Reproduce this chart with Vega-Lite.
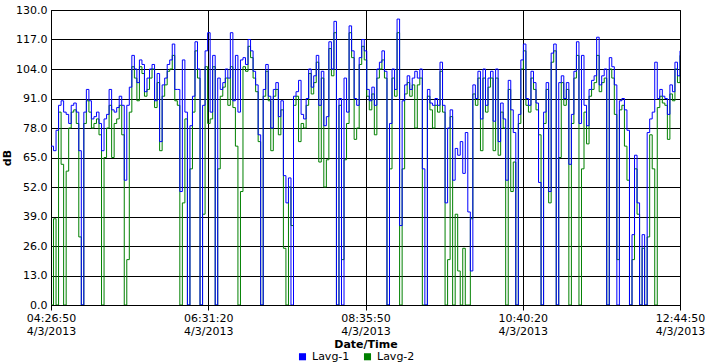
{
  "$schema": "https://vega.github.io/schema/vega-lite/v6.json",
  "width": 629,
  "height": 295,
  "autosize": {"type": "none"},
  "padding": {"left": 51, "top": 10, "right": 25, "bottom": 58},
  "background": "white",
  "config": {
    "font": "DejaVu Sans",
    "view": {"stroke": "#000", "strokeWidth": 1},
    "axis": {
      "labelFont": "DejaVu Sans", "labelFontSize": 11, "labelColor": "#000",
      "titleFont": "DejaVu Sans", "titleFontSize": 11, "titleFontWeight": "bold", "titleColor": "#000",
      "gridColor": "#000", "gridOpacity": 1, "gridWidth": 1,
      "domainColor": "#000", "tickColor": "#000"
    },
    "axisY": {"tickCount": 20, "labelOverlap": false},
    "legend": {"labelFont": "DejaVu Sans", "labelFontSize": 11, "labelColor": "#000"}
  },
  "data": {"values": [
{"t":"2013-04-03T04:26:50","a":70,"b":0},{"t":"2013-04-03T04:28:50","a":68,"b":38},{"t":"2013-04-03T04:30:50","a":77,"b":0},{"t":"2013-04-03T04:32:50","a":88,"b":85},{"t":"2013-04-03T04:34:50","a":90,"b":62},{"t":"2013-04-03T04:36:50","a":85,"b":0},{"t":"2013-04-03T04:38:50","a":84,"b":59},{"t":"2013-04-03T04:40:50","a":80,"b":78},{"t":"2013-04-03T04:42:50","a":88,"b":85},{"t":"2013-04-03T04:44:50","a":89,"b":86},
{"t":"2013-04-03T04:46:50","a":85,"b":80},{"t":"2013-04-03T04:48:50","a":68,"b":30},{"t":"2013-04-03T04:50:50","a":0,"b":0},{"t":"2013-04-03T04:52:50","a":85,"b":80},{"t":"2013-04-03T04:54:50","a":95,"b":90},{"t":"2013-04-03T04:56:50","a":90,"b":85},{"t":"2013-04-03T04:58:50","a":82,"b":78},{"t":"2013-04-03T05:00:50","a":83,"b":80},{"t":"2013-04-03T05:02:50","a":85,"b":82},{"t":"2013-04-03T05:04:50","a":80,"b":75},
{"t":"2013-04-03T05:06:50","a":68,"b":0},{"t":"2013-04-03T05:08:50","a":82,"b":65},{"t":"2013-04-03T05:10:50","a":84,"b":78},{"t":"2013-04-03T05:12:50","a":95,"b":88},{"t":"2013-04-03T05:14:50","a":86,"b":65},{"t":"2013-04-03T05:16:50","a":85,"b":80},{"t":"2013-04-03T05:18:50","a":87,"b":82},{"t":"2013-04-03T05:20:50","a":92,"b":88},{"t":"2013-04-03T05:22:50","a":88,"b":75},{"t":"2013-04-03T05:24:50","a":55,"b":0},
{"t":"2013-04-03T05:26:50","a":88,"b":20},{"t":"2013-04-03T05:28:50","a":96,"b":85},{"t":"2013-04-03T05:30:50","a":110,"b":105},{"t":"2013-04-03T05:32:50","a":104,"b":100},{"t":"2013-04-03T05:34:50","a":98,"b":90},{"t":"2013-04-03T05:36:50","a":108,"b":105},{"t":"2013-04-03T05:38:50","a":106,"b":102},{"t":"2013-04-03T05:40:50","a":94,"b":92},{"t":"2013-04-03T05:42:50","a":100,"b":95},{"t":"2013-04-03T05:44:50","a":104,"b":100},
{"t":"2013-04-03T05:46:50","a":106,"b":104},{"t":"2013-04-03T05:48:50","a":90,"b":87},{"t":"2013-04-03T05:50:50","a":102,"b":98},{"t":"2013-04-03T05:52:50","a":72,"b":68},{"t":"2013-04-03T05:54:50","a":97,"b":92},{"t":"2013-04-03T05:56:50","a":100,"b":97},{"t":"2013-04-03T05:58:50","a":106,"b":103},{"t":"2013-04-03T06:00:50","a":108,"b":104},{"t":"2013-04-03T06:02:50","a":115,"b":110},{"t":"2013-04-03T06:04:50","a":95,"b":90},
{"t":"2013-04-03T06:06:50","a":95,"b":88},{"t":"2013-04-03T06:08:50","a":50,"b":0},{"t":"2013-04-03T06:10:50","a":108,"b":45},{"t":"2013-04-03T06:12:50","a":85,"b":82},{"t":"2013-04-03T06:14:50","a":0,"b":0},{"t":"2013-04-03T06:16:50","a":79,"b":60},{"t":"2013-04-03T06:18:50","a":92,"b":85},{"t":"2013-04-03T06:20:50","a":116,"b":112},{"t":"2013-04-03T06:22:50","a":104,"b":100},{"t":"2013-04-03T06:24:50","a":0,"b":0},
{"t":"2013-04-03T06:26:50","a":88,"b":40},{"t":"2013-04-03T06:28:50","a":112,"b":105},{"t":"2013-04-03T06:30:50","a":120,"b":80},{"t":"2013-04-03T06:32:50","a":85,"b":82},{"t":"2013-04-03T06:34:50","a":110,"b":105},{"t":"2013-04-03T06:36:50","a":0,"b":0},{"t":"2013-04-03T06:38:50","a":100,"b":60},{"t":"2013-04-03T06:40:50","a":95,"b":92},{"t":"2013-04-03T06:42:50","a":98,"b":96},{"t":"2013-04-03T06:44:50","a":104,"b":100},
{"t":"2013-04-03T06:46:50","a":100,"b":88},{"t":"2013-04-03T06:48:50","a":120,"b":105},{"t":"2013-04-03T06:50:50","a":90,"b":87},{"t":"2013-04-03T06:52:50","a":110,"b":70},{"t":"2013-04-03T06:54:50","a":85,"b":0},{"t":"2013-04-03T06:56:50","a":108,"b":50},{"t":"2013-04-03T06:58:50","a":109,"b":105},{"t":"2013-04-03T07:00:50","a":106,"b":103},{"t":"2013-04-03T07:02:50","a":117,"b":114},{"t":"2013-04-03T07:04:50","a":112,"b":109},
{"t":"2013-04-03T07:06:50","a":103,"b":100},{"t":"2013-04-03T07:08:50","a":97,"b":94},{"t":"2013-04-03T07:10:50","a":75,"b":72},{"t":"2013-04-03T07:12:50","a":0,"b":0},{"t":"2013-04-03T07:14:50","a":95,"b":92},{"t":"2013-04-03T07:16:50","a":106,"b":103},{"t":"2013-04-03T07:18:50","a":92,"b":90},{"t":"2013-04-03T07:20:50","a":78,"b":68},{"t":"2013-04-03T07:22:50","a":95,"b":92},{"t":"2013-04-03T07:24:50","a":98,"b":95},
{"t":"2013-04-03T07:26:50","a":83,"b":75},{"t":"2013-04-03T07:28:50","a":90,"b":86},{"t":"2013-04-03T07:30:50","a":57,"b":25},{"t":"2013-04-03T07:32:50","a":45,"b":0},{"t":"2013-04-03T07:34:50","a":56,"b":52},{"t":"2013-04-03T07:36:50","a":0,"b":35},{"t":"2013-04-03T07:38:50","a":92,"b":88},{"t":"2013-04-03T07:40:50","a":94,"b":92},{"t":"2013-04-03T07:42:50","a":99,"b":72},{"t":"2013-04-03T07:44:50","a":84,"b":80},
{"t":"2013-04-03T07:46:50","a":82,"b":78},{"t":"2013-04-03T07:48:50","a":91,"b":88},{"t":"2013-04-03T07:50:50","a":104,"b":102},{"t":"2013-04-03T07:52:50","a":96,"b":93},{"t":"2013-04-03T07:54:50","a":101,"b":98},{"t":"2013-04-03T07:56:50","a":110,"b":107},{"t":"2013-04-03T07:58:50","a":88,"b":63},{"t":"2013-04-03T08:00:50","a":103,"b":100},{"t":"2013-04-03T08:02:50","a":79,"b":52},{"t":"2013-04-03T08:04:50","a":83,"b":64},
{"t":"2013-04-03T08:06:50","a":116,"b":113},{"t":"2013-04-03T08:08:50","a":104,"b":101},{"t":"2013-04-03T08:10:50","a":125,"b":120},{"t":"2013-04-03T08:12:50","a":0,"b":0},{"t":"2013-04-03T08:14:50","a":91,"b":88},{"t":"2013-04-03T08:16:50","a":0,"b":20},{"t":"2013-04-03T08:18:50","a":100,"b":64},{"t":"2013-04-03T08:20:50","a":85,"b":80},{"t":"2013-04-03T08:22:50","a":123,"b":120},{"t":"2013-04-03T08:24:50","a":112,"b":109},
{"t":"2013-04-03T08:26:50","a":91,"b":73},{"t":"2013-04-03T08:28:50","a":88,"b":78},{"t":"2013-04-03T08:30:50","a":109,"b":106},{"t":"2013-04-03T08:32:50","a":117,"b":114},{"t":"2013-04-03T08:34:50","a":112,"b":108},{"t":"2013-04-03T08:36:50","a":95,"b":92},{"t":"2013-04-03T08:38:50","a":90,"b":86},{"t":"2013-04-03T08:40:50","a":96,"b":93},{"t":"2013-04-03T08:42:50","a":88,"b":75},{"t":"2013-04-03T08:44:50","a":104,"b":100},
{"t":"2013-04-03T08:46:50","a":107,"b":104},{"t":"2013-04-03T08:48:50","a":112,"b":108},{"t":"2013-04-03T08:50:50","a":103,"b":100},{"t":"2013-04-03T08:52:50","a":0,"b":0},{"t":"2013-04-03T08:54:50","a":80,"b":60},{"t":"2013-04-03T08:56:50","a":104,"b":100},{"t":"2013-04-03T08:58:50","a":95,"b":92},{"t":"2013-04-03T09:00:50","a":126,"b":120},{"t":"2013-04-03T09:02:50","a":35,"b":0},{"t":"2013-04-03T09:04:50","a":90,"b":60},
{"t":"2013-04-03T09:06:50","a":97,"b":93},{"t":"2013-04-03T09:08:50","a":101,"b":98},{"t":"2013-04-03T09:10:50","a":95,"b":92},{"t":"2013-04-03T09:12:50","a":100,"b":97},{"t":"2013-04-03T09:14:50","a":103,"b":78},{"t":"2013-04-03T09:16:50","a":100,"b":97},{"t":"2013-04-03T09:18:50","a":104,"b":100},{"t":"2013-04-03T09:20:50","a":60,"b":0},{"t":"2013-04-03T09:22:50","a":0,"b":0},{"t":"2013-04-03T09:24:50","a":95,"b":92},
{"t":"2013-04-03T09:26:50","a":89,"b":86},{"t":"2013-04-03T09:28:50","a":88,"b":78},{"t":"2013-04-03T09:30:50","a":91,"b":88},{"t":"2013-04-03T09:32:50","a":88,"b":85},{"t":"2013-04-03T09:34:50","a":107,"b":103},{"t":"2013-04-03T09:36:50","a":88,"b":85},{"t":"2013-04-03T09:38:50","a":45,"b":0},{"t":"2013-04-03T09:40:50","a":78,"b":20},{"t":"2013-04-03T09:42:50","a":86,"b":83},{"t":"2013-04-03T09:44:50","a":55,"b":0},
{"t":"2013-04-03T09:46:50","a":69,"b":40},{"t":"2013-04-03T09:48:50","a":66,"b":15},{"t":"2013-04-03T09:50:50","a":72,"b":0},{"t":"2013-04-03T09:52:50","a":58,"b":25},{"t":"2013-04-03T09:54:50","a":76,"b":0},{"t":"2013-04-03T09:56:50","a":41,"b":0},{"t":"2013-04-03T09:58:50","a":15,"b":38},{"t":"2013-04-03T10:00:50","a":97,"b":93},{"t":"2013-04-03T10:02:50","a":91,"b":88},{"t":"2013-04-03T10:04:50","a":103,"b":100},
{"t":"2013-04-03T10:06:50","a":82,"b":68},{"t":"2013-04-03T10:08:50","a":104,"b":100},{"t":"2013-04-03T10:10:50","a":88,"b":85},{"t":"2013-04-03T10:12:50","a":100,"b":96},{"t":"2013-04-03T10:14:50","a":103,"b":100},{"t":"2013-04-03T10:16:50","a":81,"b":68},{"t":"2013-04-03T10:18:50","a":104,"b":100},{"t":"2013-04-03T10:20:50","a":72,"b":66},{"t":"2013-04-03T10:22:50","a":89,"b":85},{"t":"2013-04-03T10:24:50","a":82,"b":78},
{"t":"2013-04-03T10:26:50","a":55,"b":0},{"t":"2013-04-03T10:28:50","a":99,"b":95},{"t":"2013-04-03T10:30:50","a":86,"b":50},{"t":"2013-04-03T10:32:50","a":76,"b":63},{"t":"2013-04-03T10:34:50","a":0,"b":0},{"t":"2013-04-03T10:36:50","a":84,"b":80},{"t":"2013-04-03T10:38:50","a":108,"b":104},{"t":"2013-04-03T10:40:50","a":115,"b":112},{"t":"2013-04-03T10:42:50","a":91,"b":88},{"t":"2013-04-03T10:44:50","a":88,"b":85},
{"t":"2013-04-03T10:46:50","a":103,"b":100},{"t":"2013-04-03T10:48:50","a":98,"b":95},{"t":"2013-04-03T10:50:50","a":89,"b":86},{"t":"2013-04-03T10:52:50","a":54,"b":75},{"t":"2013-04-03T10:54:50","a":0,"b":0},{"t":"2013-04-03T10:56:50","a":85,"b":80},{"t":"2013-04-03T10:58:50","a":98,"b":95},{"t":"2013-04-03T11:00:50","a":50,"b":45},{"t":"2013-04-03T11:02:50","a":111,"b":107},{"t":"2013-04-03T11:04:50","a":115,"b":112},
{"t":"2013-04-03T11:06:50","a":0,"b":0},{"t":"2013-04-03T11:08:50","a":98,"b":65},{"t":"2013-04-03T11:10:50","a":101,"b":98},{"t":"2013-04-03T11:12:50","a":91,"b":88},{"t":"2013-04-03T11:14:50","a":98,"b":95},{"t":"2013-04-03T11:16:50","a":62,"b":0},{"t":"2013-04-03T11:18:50","a":84,"b":80},{"t":"2013-04-03T11:20:50","a":103,"b":100},{"t":"2013-04-03T11:22:50","a":116,"b":110},{"t":"2013-04-03T11:24:50","a":80,"b":0},
{"t":"2013-04-03T11:26:50","a":110,"b":60},{"t":"2013-04-03T11:28:50","a":88,"b":85},{"t":"2013-04-03T11:30:50","a":79,"b":71},{"t":"2013-04-03T11:32:50","a":95,"b":92},{"t":"2013-04-03T11:34:50","a":99,"b":95},{"t":"2013-04-03T11:36:50","a":101,"b":98},{"t":"2013-04-03T11:38:50","a":118,"b":110},{"t":"2013-04-03T11:40:50","a":97,"b":94},{"t":"2013-04-03T11:42:50","a":101,"b":98},{"t":"2013-04-03T11:44:50","a":104,"b":100},
{"t":"2013-04-03T11:46:50","a":0,"b":0},{"t":"2013-04-03T11:48:50","a":109,"b":104},{"t":"2013-04-03T11:50:50","a":105,"b":100},{"t":"2013-04-03T11:52:50","a":97,"b":84},{"t":"2013-04-03T11:54:50","a":0,"b":20},{"t":"2013-04-03T11:56:50","a":90,"b":86},{"t":"2013-04-03T11:58:50","a":91,"b":88},{"t":"2013-04-03T12:00:50","a":86,"b":70},{"t":"2013-04-03T12:02:50","a":77,"b":55},{"t":"2013-04-03T12:04:50","a":0,"b":0},
{"t":"2013-04-03T12:06:50","a":31,"b":20},{"t":"2013-04-03T12:08:50","a":66,"b":60},{"t":"2013-04-03T12:10:50","a":45,"b":40},{"t":"2013-04-03T12:12:50","a":0,"b":0},{"t":"2013-04-03T12:14:50","a":31,"b":25},{"t":"2013-04-03T12:16:50","a":0,"b":0},{"t":"2013-04-03T12:18:50","a":76,"b":30},{"t":"2013-04-03T12:20:50","a":82,"b":75},{"t":"2013-04-03T12:22:50","a":85,"b":60},{"t":"2013-04-03T12:24:50","a":107,"b":0},
{"t":"2013-04-03T12:26:50","a":91,"b":87},{"t":"2013-04-03T12:28:50","a":95,"b":92},{"t":"2013-04-03T12:30:50","a":92,"b":89},{"t":"2013-04-03T12:32:50","a":91,"b":88},{"t":"2013-04-03T12:34:50","a":84,"b":73},{"t":"2013-04-03T12:36:50","a":97,"b":93},{"t":"2013-04-03T12:38:50","a":94,"b":90},{"t":"2013-04-03T12:40:50","a":107,"b":104},{"t":"2013-04-03T12:42:50","a":101,"b":98},{"t":"2013-04-03T12:44:50","a":112,"b":110}
  ]},
  "encoding": {
    "x": {
      "field": "t", "type": "temporal", "title": "Date/Time",
      "scale": {"domain": [
        {"year": 2013, "month": 4, "date": 3, "hours": 4, "minutes": 26, "seconds": 50},
        {"year": 2013, "month": 4, "date": 3, "hours": 12, "minutes": 44, "seconds": 50}
      ], "nice": false},
      "axis": {
        "values": [
          {"year": 2013, "month": 4, "date": 3, "hours": 4, "minutes": 26, "seconds": 50},
          {"year": 2013, "month": 4, "date": 3, "hours": 6, "minutes": 31, "seconds": 20},
          {"year": 2013, "month": 4, "date": 3, "hours": 8, "minutes": 35, "seconds": 50},
          {"year": 2013, "month": 4, "date": 3, "hours": 10, "minutes": 40, "seconds": 20},
          {"year": 2013, "month": 4, "date": 3, "hours": 12, "minutes": 44, "seconds": 50}
        ],
        "tickCount": 10,
        "labelExpr": "[timeFormat(datum.value, '%H:%M:%S'), timeFormat(datum.value, '%-m/%-d/%Y')]",
        "labelFlush": false, "labelOverlap": false, "labelBound": false,
        "labelLineHeight": 13, "labelPadding": 2, "tickSize": 5,
        "grid": true, "titlePadding": 2
      }
    }
  },
  "layer": [
    {
      "mark": {"type": "line", "interpolate": "step-after", "strokeWidth": 1, "clip": true},
      "encoding": {
        "y": {"field": "b", "type": "quantitative", "title": "dB",
              "scale": {"domain": [0, 130], "nice": false},
              "axis": {"values": [0,13,26,39,52,65,78,91,104,117,130], "tickCount": 20, "format": ".1f", "ticks": false, "labelPadding": 4, "titlePadding": 3, "grid": true, "labelOverlap": false, "labelFlush": false, "labelBound": false}},
        "color": {"datum": "Lavg-2", "type": "nominal",
                  "scale": {"domain": ["Lavg-1", "Lavg-2"], "range": ["#0000ff", "#008000"]},
                  "legend": {"orient": "none", "legendX": 246, "legendY": 341, "direction": "horizontal", "title": null,
                             "symbolType": "square", "symbolSize": 50, "columnPadding": 12, "labelOffset": 4,
                             "encode": {"symbols": {"update": {"fill": {"scale": "color", "field": "value"}, "strokeWidth": {"value": 0}}}}}}
      }
    },
    {
      "mark": {"type": "line", "interpolate": "step-after", "strokeWidth": 1, "clip": true},
      "encoding": {
        "y": {"field": "a", "type": "quantitative", "title": "dB"},
        "color": {"datum": "Lavg-1", "type": "nominal"}
      }
    }
  ]
}
